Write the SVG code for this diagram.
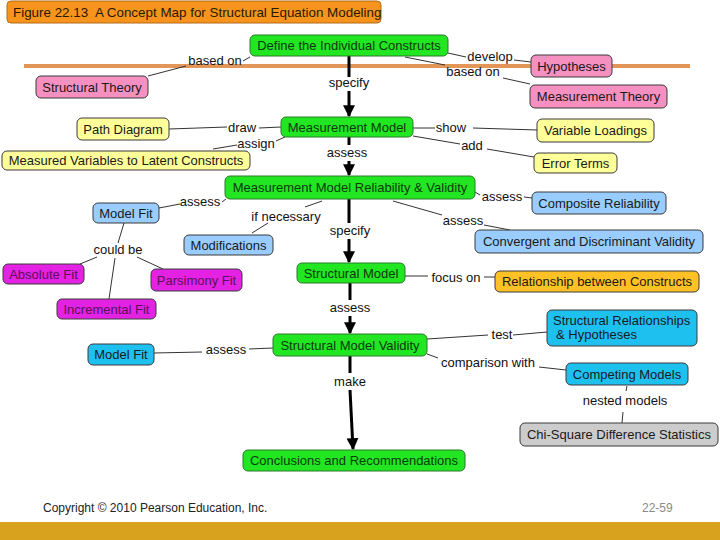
<svg xmlns="http://www.w3.org/2000/svg" width="720" height="540" viewBox="0 0 720 540">
<defs>
<marker id="ah" viewBox="0 0 10 10" refX="9" refY="5" markerWidth="4" markerHeight="4.5" orient="auto" markerUnits="strokeWidth">
<path d="M0,0 L10,5 L0,10 z" fill="#000"/>
</marker>
<style>
text{font-family:"Liberation Sans",Arial,sans-serif;}
.n rect{stroke:#3a3a3a;stroke-width:1;}
.n text{font-size:13px;text-anchor:middle;fill:#1a1a1a;}
.g rect{fill:#22E622;stroke:#2a7a2a;}
.g text{fill:#0a3a0a;}
.pk rect{fill:#F590C0;}
.ye rect{fill:#FFFF99;}
.lb rect{fill:#99CCFF;}
.mg rect{fill:#E422E4;}
.mg text{fill:#5a105a;}
.or rect{fill:#FFC125;}
.cy rect{fill:#1EC0F0;}
.gr rect{fill:#CCCCCC;}
.lbl{font-size:13px;text-anchor:middle;fill:#111;}
.t{stroke:#333;stroke-width:1;fill:none;}
.sp{stroke:#000;stroke-width:3;fill:none;}
</style>
</defs>
<rect width="720" height="540" fill="#fff"/>
<!-- title -->
<g id="title">
<rect x="7" y="1" width="374" height="22" rx="4" fill="#F7941D" stroke="#B06A1A"/>
<text x="13" y="17" font-size="13.4" fill="#2a1a00" xml:space="preserve">Figure 22.13  A Concept Map for Structural Equation Modeling</text>
</g>
<line x1="24" y1="66" x2="690" y2="66" stroke="#E2965A" stroke-width="4"/>
<!-- connectors -->
<g id="connectors">
<!-- spine -->
<line class="sp" x1="349" y1="56" x2="349" y2="77"/>
<line class="sp" x1="349" y1="91" x2="349" y2="116" marker-end="url(#ah)"/>
<line class="sp" x1="349" y1="137" x2="349" y2="145"/>
<line class="sp" x1="349" y1="161" x2="349" y2="175" marker-end="url(#ah)"/>
<line class="sp" x1="349" y1="199" x2="349" y2="223"/>
<line class="sp" x1="349" y1="239" x2="349" y2="262" marker-end="url(#ah)"/>
<line class="sp" x1="350" y1="283" x2="350" y2="300"/>
<line class="sp" x1="350" y1="316" x2="350" y2="333" marker-end="url(#ah)"/>
<line class="sp" x1="350" y1="356" x2="350" y2="373"/>
<line class="sp" x1="350" y1="390" x2="353" y2="449" marker-end="url(#ah)"/>
<!-- thin -->
<path class="t" d="M250,57 L243,61 M186,66 L148,76"/>
<path class="t" d="M448,53 L466,57 M514,60 L531,62"/>
<path class="t" d="M405,57 L445,65 M503,78 L530,84"/>
<path class="t" d="M169,129 L227,127 M259,128 L281,127"/>
<path class="t" d="M285,137 L276,141 M237,145 L213,149"/>
<path class="t" d="M413,128 L435,128 M473,128 L537,130"/>
<path class="t" d="M413,136 L460,144 M487,149 L534,157"/>
<path class="t" d="M159,208 L180,204 M222,202 L226,199"/>
<path class="t" d="M322,201 L305,207 M268,223 L252,233"/>
<path class="t" d="M475,192 L480,195 M524,197 L532,198"/>
<path class="t" d="M393,201 L442,215 M484,225 L510,230"/>
<path class="t" d="M124,223 L118,243 M97,257 L80,264 M137,257 L163,269 M115,258 L109,299"/>
<path class="t" d="M405,276 L428,276 M484,277 L495,277"/>
<path class="t" d="M427,339 L488,335 M513,335 L547,332"/>
<path class="t" d="M427,354 L438,358 M539,367 L566,370"/>
<path class="t" d="M154,353 L202,352 M249,349 L273,348"/>
<path class="t" d="M627,386 L626,391 M623,412 L622,423"/>
</g>
<!-- labels -->
<g id="labels">
<text class="lbl" x="215" y="65">based on</text>
<text class="lbl" x="349" y="87">specify</text>
<text class="lbl" x="490" y="61">develop</text>
<text class="lbl" x="473" y="76">based on</text>
<text class="lbl" x="242" y="132">draw</text>
<text class="lbl" x="256" y="148">assign</text>
<text class="lbl" x="451" y="132">show</text>
<text class="lbl" x="472" y="150">add</text>
<text class="lbl" x="347" y="157">assess</text>
<text class="lbl" x="200" y="206">assess</text>
<text class="lbl" x="286" y="221">if necessary</text>
<text class="lbl" x="350" y="235">specify</text>
<text class="lbl" x="502" y="201">assess</text>
<text class="lbl" x="463" y="225">assess</text>
<text class="lbl" x="118" y="254">could be</text>
<text class="lbl" x="456" y="282">focus on</text>
<text class="lbl" x="350" y="312">assess</text>
<text class="lbl" x="502" y="339">test</text>
<text class="lbl" x="488" y="367">comparison with</text>
<text class="lbl" x="226" y="354">assess</text>
<text class="lbl" x="350" y="386">make</text>
<text class="lbl" x="625" y="405">nested models</text>
</g>
<!-- nodes -->
<g id="n-define" class="n g"><rect x="250" y="35" width="198" height="21" rx="5"/><text x="349" y="50">Define the Individual Constructs</text></g>
<g id="n-hyp" class="n pk"><rect x="531" y="55" width="81" height="22" rx="5"/><text x="571.5" y="70.5">Hypotheses</text></g>
<g id="n-mtheory" class="n pk"><rect x="530" y="85" width="137" height="23" rx="5"/><text x="598.5" y="101">Measurement Theory</text></g>
<g id="n-stheory" class="n pk"><rect x="36" y="76" width="112" height="22" rx="5"/><text x="92" y="91.5">Structural Theory</text></g>
<g id="n-path" class="n ye"><rect x="77" y="118" width="92" height="22" rx="5"/><text x="123" y="133.5">Path Diagram</text></g>
<g id="n-mm" class="n g"><rect x="281" y="117" width="132" height="20" rx="5"/><text x="347" y="131.5">Measurement Model</text></g>
<g id="n-varload" class="n ye"><rect x="537" y="119" width="117" height="23" rx="5"/><text x="595.5" y="135">Variable Loadings</text></g>
<g id="n-err" class="n ye"><rect x="534" y="153" width="83" height="20" rx="5"/><text x="575.5" y="167.5">Error Terms</text></g>
<g id="n-measvar" class="n ye"><rect x="2" y="151" width="248" height="19" rx="5"/><text x="126" y="165">Measured Variables to Latent Constructs</text></g>
<g id="n-mmrv" class="n g"><rect x="225" y="176" width="250" height="23" rx="5"/><text x="350" y="192">Measurement Model Reliability &amp; Validity</text></g>
<g id="n-comprel" class="n lb"><rect x="532" y="192" width="134" height="22" rx="5"/><text x="599" y="207.5">Composite Reliability</text></g>
<g id="n-conv" class="n lb"><rect x="475" y="230" width="228" height="23" rx="5"/><text x="589" y="246">Convergent and Discriminant Validity</text></g>
<g id="n-modelfit1" class="n lb"><rect x="93" y="203" width="66" height="20" rx="5"/><text x="126" y="217.5">Model Fit</text></g>
<g id="n-modif" class="n lb"><rect x="184" y="235" width="89" height="20" rx="5"/><text x="228.5" y="249.5">Modifications</text></g>
<g id="n-abs" class="n mg"><rect x="3" y="264" width="81" height="20" rx="5"/><text x="43.5" y="278.5">Absolute Fit</text></g>
<g id="n-pars" class="n mg"><rect x="151" y="269" width="91" height="22" rx="5"/><text x="196.5" y="284.5">Parsimony Fit</text></g>
<g id="n-incr" class="n mg"><rect x="57" y="299" width="99" height="20" rx="5"/><text x="106.5" y="313.5">Incremental Fit</text></g>
<g id="n-sm" class="n g"><rect x="297" y="263" width="108" height="20" rx="5"/><text x="351" y="277.5">Structural Model</text></g>
<g id="n-rel" class="n or"><rect x="495" y="271" width="204" height="21" rx="5"/><text x="597" y="286">Relationship between Constructs</text></g>
<g id="n-srh" class="n cy"><rect x="547" y="310" width="150" height="36" rx="5"/><text x="553" y="324.5" style="text-anchor:start">Structural Relationships</text><text x="556" y="339" style="text-anchor:start">&amp; Hypotheses</text></g>
<g id="n-modelfit2" class="n cy"><rect x="88" y="344" width="66" height="21" rx="5"/><text x="121" y="359">Model Fit</text></g>
<g id="n-smv" class="n g"><rect x="273" y="334" width="154" height="22" rx="5"/><text x="350" y="349.5">Structural Model Validity</text></g>
<g id="n-comp" class="n cy"><rect x="566" y="363" width="122" height="22" rx="5"/><text x="627" y="378.5">Competing Models</text></g>
<g id="n-chi" class="n gr"><rect x="520" y="423" width="198" height="23" rx="5"/><text x="619" y="439">Chi-Square Difference Statistics</text></g>
<g id="n-concl" class="n g"><rect x="243" y="450" width="222" height="21" rx="5"/><text x="354" y="465">Conclusions and Recommendations</text></g>
<!-- footer -->
<rect x="0" y="522" width="720" height="18" fill="#D9A21E"/>
<text x="43" y="512" font-size="12" fill="#222">Copyright © 2010 Pearson Education, Inc.</text>
<text x="642" y="512" font-size="12" fill="#8a8a8a">22-59</text>
</svg>
